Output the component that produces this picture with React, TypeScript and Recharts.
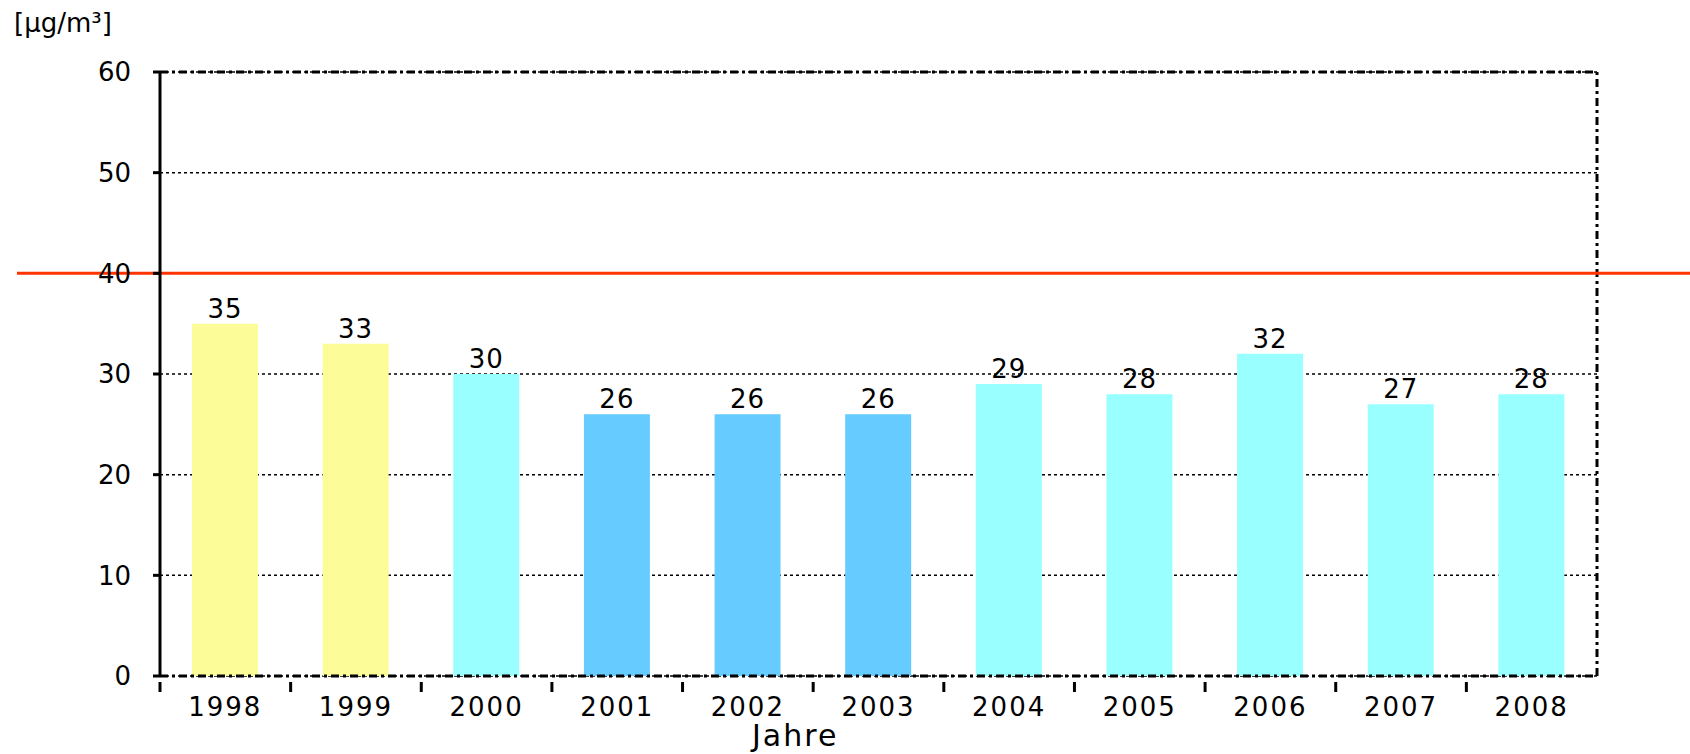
import { BarChart, Bar, XAxis, YAxis, CartesianGrid, Cell, LabelList, ReferenceLine } from 'recharts';

const years = ['1998', '1999', '2000', '2001', '2002', '2003', '2004', '2005', '2006', '2007', '2008'];
const values = [35, 33, 30, 26, 26, 26, 29, 28, 32, 27, 28];
// which colour group each year belongs to
const groups = ['a', 'a', 'b', 'c', 'c', 'c', 'b', 'b', 'b', 'b', 'b'];
const yTicks = [0, 10, 20, 30, 40, 50, 60];
const limit = 40;

const groupColors: Record<string, string> = { a: '#FCFC99', b: '#99FFFF', c: '#66CCFF' };

const data = years.map((year, i) => ({ year, value: values[i], group: groups[i] }));

const W = 1690;
const H = 754;
const LEFT = 160;
const RIGHT = 1597;
const band = (RIGHT - LEFT) / years.length;
const FONT = '"DejaVu Sans", Arial, sans-serif';
const dashDot = '8 4 3 4';

const XTick = (props: any) => {
  const { x, y, payload } = props;
  const left = x - band / 2;
  return (
    <g>
      <line x1={left} x2={left} y1={y - 2} y2={y + 8} stroke="#000" strokeWidth={3} />
      <text x={x} y={y + 32} textAnchor="middle" fontSize={26} fontFamily={FONT} letterSpacing={2} fill="#000">
        {payload.value}
      </text>
    </g>
  );
};

const RedLine = (props: any) => (
  <line x1={17} x2={W} y1={props.y1} y2={props.y2} stroke="#FF3300" strokeWidth={3} />
);

// dash-dot frame line on the right edge of the plot
const RightEdge = (props: any) => (
  <line
    x1={props.x1 + band / 2}
    x2={props.x2 + band / 2}
    y1={props.y1}
    y2={props.y2}
    stroke="#000"
    strokeWidth={3}
    strokeDasharray={dashDot}
  />
);

export default function App() {
  return (
    <div style={{ position: 'absolute', left: 0, top: 0, width: W, height: H, background: '#fff' }}>
      <div style={{ position: 'absolute', left: 14, top: 8, fontFamily: FONT, fontSize: 26, color: '#000' }}>
        [µg/m³]
      </div>
      <BarChart
        width={W}
        height={H}
        data={data}
        margin={{ top: 72, right: 93, left: 100, bottom: 38 }}
      >
        <CartesianGrid vertical={false} stroke="#000" strokeDasharray="3 3" strokeWidth={1.5} />
        <XAxis
          dataKey="year"
          height={40}
          axisLine={{ stroke: '#000', strokeWidth: 3, strokeDasharray: dashDot }}
          tickLine={false}
          tick={<XTick />}
          interval={0}
        />
        <YAxis
          domain={[0, 60]}
          ticks={yTicks}
          width={60}
          interval={0}
          axisLine={{ stroke: '#000', strokeWidth: 3 }}
          tickLine={{ stroke: '#000', strokeWidth: 3 }}
          tickSize={7}
          tickMargin={22}
          tick={{ fill: '#000', fontSize: 26, fontFamily: FONT }}
        />
        <Bar dataKey="value" barSize={66} isAnimationActive={false}>
          {data.map((d) => (
            <Cell key={d.year} fill={groupColors[d.group]} />
          ))}
          <LabelList
            dataKey="value"
            position="top"
            offset={6}
            fill="#000"
            fontSize={26}
            fontFamily={FONT}
            letterSpacing={1}
          />
        </Bar>
        <ReferenceLine y={60} stroke="#000" strokeWidth={3} strokeDasharray={dashDot} />
        <ReferenceLine x={years[years.length - 1]} shape={<RightEdge />} />
        <ReferenceLine y={limit} shape={<RedLine />} />
      </BarChart>
      <div
        style={{
          position: 'absolute',
          left: 752,
          top: 720,
          fontFamily: FONT,
          fontSize: 30,
          lineHeight: '32px',
          letterSpacing: 2,
          color: '#000',
        }}
      >
        Jahre
      </div>
    </div>
  );
}
